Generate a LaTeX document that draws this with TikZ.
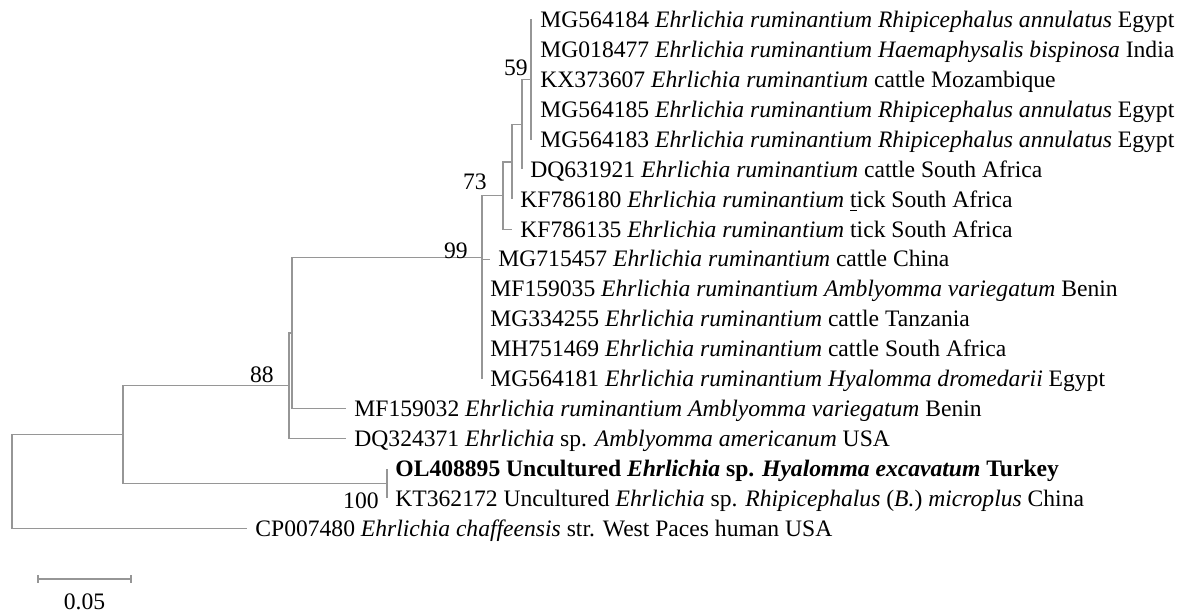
\documentclass[tikz,border=0pt]{standalone}
\usepackage{fontspec}
\setmainfont{Liberation Serif}
\definecolor{treegray}{RGB}{150,150,150}
\begin{document}
\begin{tikzpicture}[x=0.5pt,y=-0.5pt,
  br/.style={draw=treegray,line width=0.6pt},
  leaf/.style={anchor=west,inner xsep=4pt,inner ysep=0pt,text height=8.8pt,text depth=1pt,font=\fontsize{11.8}{14}\selectfont},
  boot/.style={anchor=base east,inner sep=0pt,font=\fontsize{11.8}{14}\selectfont}]
\useasboundingbox (0,0) rectangle (1183,614);
\fill[white] (0,0) rectangle (1183,614);
% internal nodes
\coordinate (root) at (12,481.5);
\coordinate (nF) at (123,434.6);
\coordinate (n88) at (289,385.8);
\coordinate (nE) at (292,333);
\coordinate (n99) at (482,257.3);
\coordinate (nD) at (482,319);
\coordinate (n73) at (503,195.7);
\coordinate (nB) at (512,162);
\coordinate (nC) at (522,124.7);
\coordinate (n59) at (531,79.8);
\coordinate (nG) at (387,483.5);
% leaves
\node[leaf] (L1) at (532,20) {MG564184 \textit{Ehrlichia ruminantium Rhipicephalus annulatus} Egypt};
\node[leaf] (L2) at (532,49.9) {MG018477 \textit{Ehrlichia ruminantium Haemaphysalis bispinosa} India};
\node[leaf] (L3) at (532,79.8) {KX373607 \textit{Ehrlichia ruminantium} cattle Mozambique};
\node[leaf] (L4) at (532,109.7) {MG564185 \textit{Ehrlichia ruminantium Rhipicephalus annulatus} Egypt};
\node[leaf] (L5) at (532,139.6) {MG564183 \textit{Ehrlichia ruminantium Rhipicephalus annulatus} Egypt};
\node[leaf] (L6) at (522,169.5) {DQ631921 \textit{Ehrlichia ruminantium} cattle South Africa};
\node[leaf] (L7) at (512,199.4) {KF786180 \textit{Ehrlichia ruminantium} \underline{t}ick South Africa};
\node[leaf] (L8) at (512,229.3) {KF786135 \textit{Ehrlichia ruminantium} tick South Africa};
\node[leaf] (L9) at (490,259.2) {MG715457 \textit{Ehrlichia ruminantium} cattle China};
\node[leaf] (L10) at (482,289.1) {MF159035 \textit{Ehrlichia ruminantium Amblyomma variegatum} Benin};
\node[leaf] (L11) at (482,319) {MG334255 \textit{Ehrlichia ruminantium} cattle Tanzania};
\node[leaf] (L12) at (482,348.9) {MH751469 \textit{Ehrlichia ruminantium} cattle South Africa};
\node[leaf] (L13) at (482,378.8) {MG564181 \textit{Ehrlichia ruminantium Hyalomma dromedarii} Egypt};
\node[leaf] (L14) at (346,408.7) {MF159032 \textit{Ehrlichia ruminantium Amblyomma variegatum} Benin};
\node[leaf] (L15) at (346,438.6) {DQ324371 \textit{Ehrlichia} sp. \textit{Amblyomma americanum} USA};
\node[leaf] (L16) at (387,468.5) {\textbf{OL408895 Uncultured \textit{Ehrlichia} sp. \textit{Hyalomma excavatum} Turkey}};
\node[leaf] (L17) at (387,498.4) {KT362172 Uncultured \textit{Ehrlichia} sp. \textit{Rhipicephalus} (\textit{B.}) \textit{microplus} China};
\node[leaf] (L18) at (247,528.3) {CP007480 \textit{Ehrlichia chaffeensis} str. West Paces human USA};
% branches
\draw[br] (root) |- (nF);
\draw[br] (root) |- (L18.west);
\draw[br] (nF) |- (n88);
\draw[br] (nF) |- (nG);
\draw[br] (n88) |- (nE);
\draw[br] (n88) |- (L15.west);
\draw[br] (nE) |- (n99);
\draw[br] (nE) |- (L14.west);
\draw[br] (n99) |- (n73);
\draw[br] (n99) |- (nD);
\foreach \l in {L9,L10,L11,L12,L13} \draw[br] (nD) |- (\l.west);
\draw[br] (n73) |- (nB);
\draw[br] (n73) |- (L8.west);
\draw[br] (nB) |- (nC);
\draw[br] (nB) |- (L7.west);
\draw[br] (nC) |- (n59);
\draw[br] (nC) |- (L6.west);
\foreach \l in {L1,L2,L3,L4,L5} \draw[br] (n59) |- (\l.west);
\draw[br] (nG) |- (L16.west);
\draw[br] (nG) |- (L17.west);
% bootstrap values
\node[boot] (s59) at (528,76) {59};
\node[boot] (s73) at (487,190) {73};
\node[boot] (s99) at (468,259) {99};
\node[boot] (s88) at (274,383) {88};
\node[boot] (s100) at (379,508) {100};
% scale bar
\coordinate (sb1) at (38,579);
\coordinate (sb2) at (131,579);
\draw[br] (sb1) -- (sb2);
\draw[br] ([yshift=2pt]sb1) -- ([yshift=-2pt]sb1);
\draw[br] ([yshift=2pt]sb2) -- ([yshift=-2pt]sb2);
\node[anchor=base,inner sep=0pt,font=\fontsize{11.8}{14}\selectfont] (sbl) at (84.5,609) {0.05};
\end{tikzpicture}
\end{document}
